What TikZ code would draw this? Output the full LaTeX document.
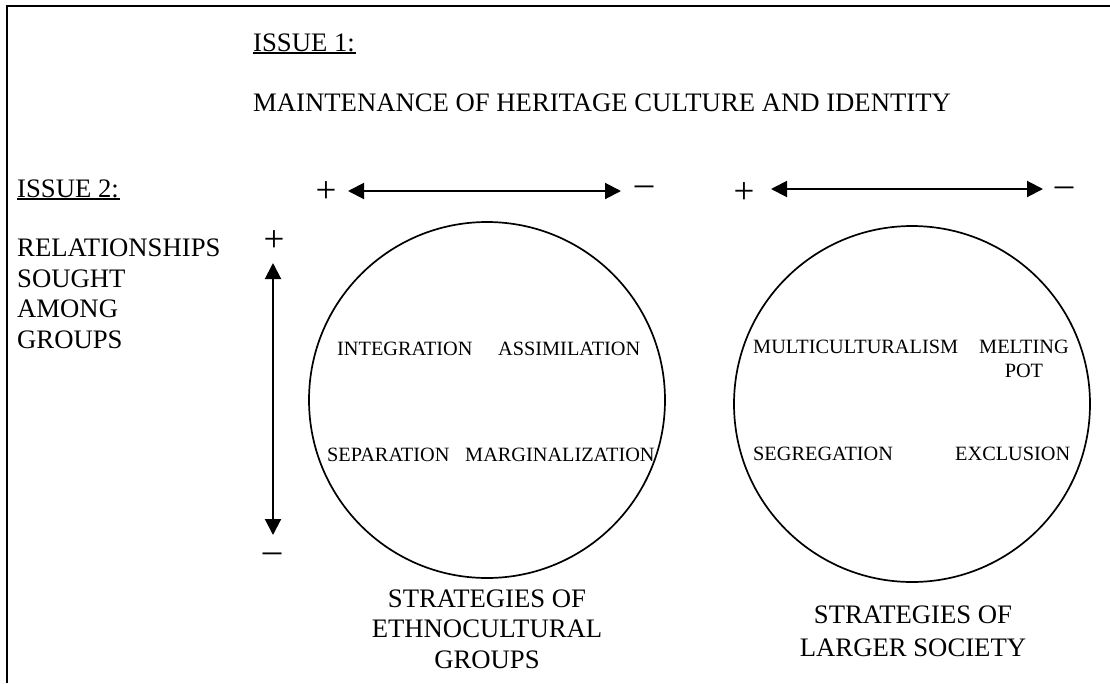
\documentclass[tikz,border=0pt]{standalone}
\usepackage{fontspec}
\setmainfont{Liberation Serif}
\usetikzlibrary{arrows.meta}
\begin{document}
\begin{tikzpicture}[x=1pt,y=-1pt,
  big/.style={font=\fontsize{26.7}{30.5}\selectfont, inner sep=0pt},
  small/.style={font=\fontsize{20.3}{24}\selectfont, inner sep=0pt},
  sign/.style={font=\fontsize{37}{37}\selectfont, inner sep=0pt, anchor=base},
  biarrow/.style={line width=2pt, {Triangle[length=16pt,width=16pt]}-{Triangle[length=16pt,width=16pt]}},
  ring/.style={circle, draw, line width=1.7pt, minimum size=356pt, inner sep=0pt},
  uline/.style={line width=1.3pt}]
\useasboundingbox (0,0) rectangle (1110,683);
\draw[line width=1.4pt] (7,683) -- (7,6) -- (1110,6);

% headings
\node[big, anchor=base west] (iss1) at (253,51) {ISSUE 1:};
\draw[uline] ([yshift=-1.5pt]iss1.south west) -- ([yshift=-1.5pt,xshift=1pt]iss1.south east);
\node[big, anchor=base west] (main) at (253,111) {MAINTENANCE OF HERITAGE CULTURE AND IDENTITY};
\node[big, anchor=base west] (iss2) at (17,197) {ISSUE 2:};
\draw[uline] ([yshift=-1.5pt]iss2.south west) -- ([yshift=-1.5pt,xshift=1pt]iss2.south east);
\node[big, anchor=base west, align=left] (rel) at (17,348) {RELATIONSHIPS\\SOUGHT\\AMONG\\GROUPS};

% horizontal arrow 1
\node[sign] (p1) at (326,202) {+};
\node[sign] (m1) at (644,195) {–};
\coordinate (a1l) at (348,191);
\coordinate (a1r) at (621,191);
\draw[biarrow] (a1l) -- (a1r);

% horizontal arrow 2
\node[sign] (p2) at (744,203) {+};
\node[sign] (m2) at (1064,196) {–};
\coordinate (a2l) at (771,189);
\coordinate (a2r) at (1043,189);
\draw[biarrow] (a2l) -- (a2r);

% vertical arrow
\node[sign] (p3) at (274,251) {+};
\node[sign] (m3) at (272,562) {–};
\coordinate (v1) at (273,263);
\coordinate (v2) at (273,535);
\draw[biarrow] (v1) -- (v2);

% circles
\node[ring] (c1) at (487,400) {};
\node[ring] (c2) at (912,404) {};

% circle 1 texts
\node[small, anchor=base west] (integ) at (337,355) {INTEGRATION};
\node[small, anchor=base west] (assim) at (498,355) {ASSIMILATION};
\node[small, anchor=base west] (separ) at (327,461) {SEPARATION};
\node[small, anchor=base west] (margi) at (465,461) {MARGINALIZATION};

% circle 2 texts
\node[small, anchor=base west] (multi) at (753,353) {MULTICULTURALISM};
\node[small, anchor=base west, align=center] (melt) at (979,377) {MELTING\\POT};
\node[small, anchor=base west] (segre) at (753,460) {SEGREGATION};
\node[small, anchor=base west] (exclu) at (955,460) {EXCLUSION};

% bottom captions
\node[big, anchor=base, align=center] (s1) at (487,668) {STRATEGIES OF\\ETHNOCULTURAL\\GROUPS};
\node[big, anchor=base, align=center, font=\fontsize{26.7}{33}\selectfont] (s2) at (913,656) {STRATEGIES OF\\LARGER SOCIETY};
\end{tikzpicture}
\end{document}
